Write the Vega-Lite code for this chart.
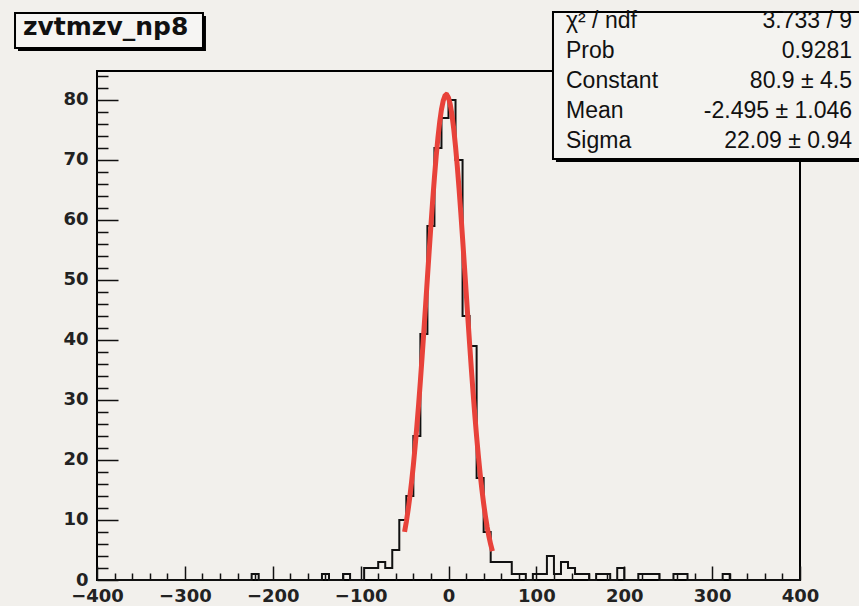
{
  "$schema": "https://vega.github.io/schema/vega-lite/v6.json",
  "width": 703,
  "height": 509,
  "autosize": {"type": "none"},
  "padding": {"left": 97, "top": 71, "right": 59, "bottom": 26},
  "background": "#f2f0ec",
  "config": {
    "view": {"stroke": "#000000", "strokeWidth": 2},
    "axis": {"labelFont": "DejaVu Sans", "labelFontWeight": "bold", "labelFontSize": 18, "labelColor": "#222222", "tickColor": "#111111", "domain": false, "grid": false, "title": null, "labelFlush": false, "labelOverlap": false}
  },
  "datasets": {
    "hist": [
      {"x": -400, "n": 0}, {"x": -392, "n": 0}, {"x": -384, "n": 0}, {"x": -376, "n": 0}, {"x": -368, "n": 0},
      {"x": -360, "n": 0}, {"x": -352, "n": 0}, {"x": -344, "n": 0}, {"x": -336, "n": 0}, {"x": -328, "n": 0},
      {"x": -320, "n": 0}, {"x": -312, "n": 0}, {"x": -304, "n": 0}, {"x": -296, "n": 0}, {"x": -288, "n": 0},
      {"x": -280, "n": 0}, {"x": -272, "n": 0}, {"x": -264, "n": 0}, {"x": -256, "n": 0}, {"x": -248, "n": 0},
      {"x": -240, "n": 0}, {"x": -232, "n": 0}, {"x": -224, "n": 1}, {"x": -216, "n": 0}, {"x": -208, "n": 0},
      {"x": -200, "n": 0}, {"x": -192, "n": 0}, {"x": -184, "n": 0}, {"x": -176, "n": 0}, {"x": -168, "n": 0},
      {"x": -160, "n": 0}, {"x": -152, "n": 0}, {"x": -144, "n": 1}, {"x": -136, "n": 0}, {"x": -128, "n": 0},
      {"x": -120, "n": 1}, {"x": -112, "n": 0}, {"x": -104, "n": 0}, {"x": -96, "n": 2}, {"x": -88, "n": 2},
      {"x": -80, "n": 3}, {"x": -72, "n": 2}, {"x": -64, "n": 5}, {"x": -56, "n": 10}, {"x": -48, "n": 14},
      {"x": -40, "n": 24}, {"x": -32, "n": 41}, {"x": -24, "n": 59}, {"x": -16, "n": 72}, {"x": -8, "n": 77},
      {"x": 0, "n": 80}, {"x": 8, "n": 70}, {"x": 16, "n": 44}, {"x": 24, "n": 39}, {"x": 32, "n": 17},
      {"x": 40, "n": 8}, {"x": 48, "n": 3}, {"x": 56, "n": 3}, {"x": 64, "n": 3}, {"x": 72, "n": 1},
      {"x": 80, "n": 1}, {"x": 88, "n": 0}, {"x": 96, "n": 1}, {"x": 104, "n": 1}, {"x": 112, "n": 4},
      {"x": 120, "n": 1}, {"x": 128, "n": 3}, {"x": 136, "n": 2}, {"x": 144, "n": 1}, {"x": 152, "n": 1},
      {"x": 160, "n": 0}, {"x": 168, "n": 1}, {"x": 176, "n": 1}, {"x": 184, "n": 0}, {"x": 192, "n": 2},
      {"x": 200, "n": 0}, {"x": 208, "n": 0}, {"x": 216, "n": 1}, {"x": 224, "n": 1}, {"x": 232, "n": 1},
      {"x": 240, "n": 0}, {"x": 248, "n": 0}, {"x": 256, "n": 1}, {"x": 264, "n": 1}, {"x": 272, "n": 0},
      {"x": 280, "n": 0}, {"x": 288, "n": 0}, {"x": 296, "n": 0}, {"x": 304, "n": 0}, {"x": 312, "n": 1},
      {"x": 320, "n": 0}, {"x": 328, "n": 0}, {"x": 336, "n": 0}, {"x": 344, "n": 0}, {"x": 352, "n": 0},
      {"x": 360, "n": 0}, {"x": 368, "n": 0}, {"x": 376, "n": 0}, {"x": 384, "n": 0}, {"x": 392, "n": 0},
      {"x": 400, "n": 0}
    ],
    "fit": [
      {"x": -50, "f": 8.01}, {"x": -48, "f": 9.69}, {"x": -46, "f": 11.63}, {"x": -44, "f": 13.85},
      {"x": -42, "f": 16.35}, {"x": -40, "f": 19.14}, {"x": -38, "f": 22.23}, {"x": -36, "f": 25.61},
      {"x": -34, "f": 29.26}, {"x": -32, "f": 33.15}, {"x": -30, "f": 37.27}, {"x": -28, "f": 41.54},
      {"x": -26, "f": 45.93}, {"x": -24, "f": 50.37}, {"x": -22, "f": 54.78}, {"x": -20, "f": 59.10},
      {"x": -18, "f": 63.24}, {"x": -16, "f": 67.11}, {"x": -14, "f": 70.64}, {"x": -12, "f": 73.75},
      {"x": -10, "f": 76.36}, {"x": -8, "f": 78.42}, {"x": -6, "f": 79.89}, {"x": -4, "f": 80.71},
      {"x": -2.5, "f": 80.90}, {"x": -2, "f": 80.88}, {"x": 0, "f": 80.39}, {"x": 2, "f": 79.24},
      {"x": 4, "f": 77.48}, {"x": 6, "f": 75.13}, {"x": 8, "f": 72.26}, {"x": 10, "f": 68.94},
      {"x": 12, "f": 65.23}, {"x": 14, "f": 61.22}, {"x": 16, "f": 56.98}, {"x": 18, "f": 52.60},
      {"x": 20, "f": 48.17}, {"x": 22, "f": 43.75}, {"x": 24, "f": 39.41}, {"x": 26, "f": 35.21},
      {"x": 28, "f": 31.19}, {"x": 30, "f": 27.42}, {"x": 32, "f": 23.90}, {"x": 34, "f": 20.67},
      {"x": 36, "f": 17.72}, {"x": 38, "f": 15.07}, {"x": 40, "f": 12.72}, {"x": 42, "f": 10.64},
      {"x": 44, "f": 8.83}, {"x": 46, "f": 7.27}, {"x": 48, "f": 5.93}, {"x": 50, "f": 4.80}
    ]
  },
  "layer": [
    {
      "data": {"name": "hist"},
      "mark": {"type": "line", "interpolate": "step-after", "color": "#111111", "strokeWidth": 2},
      "encoding": {
        "x": {"field": "x", "type": "quantitative", "scale": {"domain": [-400, 400], "nice": false, "zero": false},
          "axis": {"orient": "bottom", "values": [-400, -300, -200, -100, 0, 100, 200, 300, 400], "tickSize": -14, "tickWidth": 1.5, "labelPadding": 21}},
        "y": {"field": "n", "type": "quantitative", "scale": {"domain": [0, 84.83], "nice": false},
          "axis": {"orient": "left", "values": [0, 10, 20, 30, 40, 50, 60, 70, 80], "tickSize": -21, "tickWidth": 1.5, "labelPadding": 30}}
      }
    },
    {
      "data": {"name": "hist"},
      "mark": {"type": "point", "opacity": 0},
      "encoding": {
        "x": {"field": "x", "type": "quantitative",
          "axis": {"orient": "bottom", "values": [-380, -360, -340, -320, -280, -260, -240, -220, -180, -160, -140, -120, -80, -60, -40, -20, 20, 40, 60, 80, 120, 140, 160, 180, 220, 240, 260, 280, 320, 340, 360, 380], "tickSize": -7, "tickWidth": 1.5, "labels": false}},
        "y": {"field": "n", "type": "quantitative",
          "axis": {"orient": "left", "values": [2, 4, 6, 8, 12, 14, 16, 18, 22, 24, 26, 28, 32, 34, 36, 38, 42, 44, 46, 48, 52, 54, 56, 58, 62, 64, 66, 68, 72, 74, 76, 78, 82, 84], "tickSize": -11, "tickWidth": 1.5, "labels": false}}
      }
    },
    {
      "data": {"name": "fit"},
      "mark": {"type": "line", "color": "#e8423a", "strokeWidth": 5},
      "encoding": {
        "x": {"field": "x", "type": "quantitative", "axis": null},
        "y": {"field": "f", "type": "quantitative", "axis": null}
      }
    },
    {
      "data": {"values": [{}]},
      "mark": {"type": "rect", "color": "#000000"},
      "encoding": {
        "x": {"datum": -489.9, "type": "quantitative", "axis": null}, "x2": {"datum": -276.0},
        "y": {"datum": 94.0, "type": "quantitative", "axis": null}, "y2": {"datum": 88.17}
      }
    },
    {
      "data": {"values": [{}]},
      "mark": {"type": "rect", "fill": "#f6f5f3", "stroke": "#000000", "strokeWidth": 2},
      "encoding": {
        "x": {"datum": -493.3, "type": "quantitative", "axis": null}, "x2": {"datum": -279.4},
        "y": {"datum": 94.5, "type": "quantitative", "axis": null}, "y2": {"datum": 88.67}
      }
    },
    {
      "data": {"values": [{"title": "zvtmzv_np8"}]},
      "mark": {"type": "text", "font": "DejaVu Sans", "fontWeight": "bold", "fontSize": 25, "align": "left", "baseline": "alphabetic", "color": "#111111"},
      "encoding": {
        "x": {"datum": -484.2, "type": "quantitative", "axis": null},
        "y": {"datum": 90.83, "type": "quantitative", "axis": null},
        "text": {"field": "title"}
      }
    },
    {
      "data": {"values": [{}]},
      "mark": {"type": "rect", "color": "#000000"},
      "encoding": {
        "x": {"datum": 122.3, "type": "quantitative", "axis": null}, "x2": {"datum": 473.9},
        "y": {"datum": 94.17, "type": "quantitative", "axis": null}, "y2": {"datum": 69.67}
      }
    },
    {
      "data": {"values": [{}]},
      "mark": {"type": "rect", "fill": "#f4f3f0", "stroke": "#000000", "strokeWidth": 2},
      "encoding": {
        "x": {"datum": 118.9, "type": "quantitative", "axis": null}, "x2": {"datum": 470.6},
        "y": {"datum": 94.67, "type": "quantitative", "axis": null}, "y2": {"datum": 70.17}
      }
    },
    {
      "data": {"values": [{}]},
      "mark": {"type": "text", "font": "Liberation Sans", "fontSize": 23, "align": "left", "baseline": "alphabetic", "lineHeight": 30, "color": "#111111",
        "text": ["χ² / ndf", "Prob", "Constant", "Mean", "Sigma"]},
      "encoding": {
        "x": {"datum": 133.7, "type": "quantitative", "axis": null},
        "y": {"datum": 92.0, "type": "quantitative", "axis": null}
      }
    },
    {
      "data": {"values": [{}]},
      "mark": {"type": "text", "font": "Liberation Sans", "fontSize": 23, "align": "right", "baseline": "alphabetic", "lineHeight": 30, "color": "#111111",
        "text": ["3.733 / 9", "0.9281", "80.9 ± 4.5", "-2.495 ± 1.046", "22.09 ± 0.94"]},
      "encoding": {
        "x": {"datum": 459.2, "type": "quantitative", "axis": null},
        "y": {"datum": 92.0, "type": "quantitative", "axis": null}
      }
    }
  ],
  "resolve": {"axis": {"x": "independent", "y": "independent"}}
}
